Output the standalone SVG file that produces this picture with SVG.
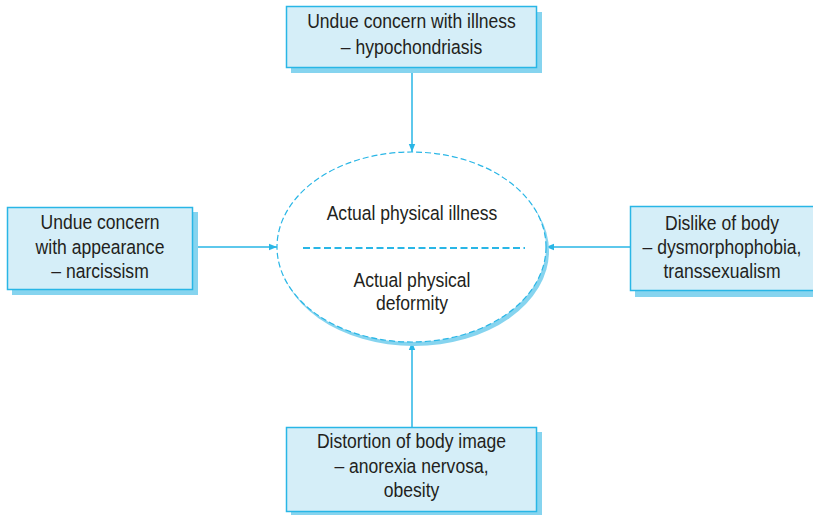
<svg xmlns="http://www.w3.org/2000/svg" width="813" height="515" viewBox="0 0 813 515">
<style>
.shadow{fill:#86d4ef;}
.box{fill:#d5eef8;stroke:#29b6e6;stroke-width:1.5;}
.t{font-family:"Liberation Sans",Arial,sans-serif;font-size:19.5px;fill:#231f20;text-anchor:middle;}
.conn{stroke:#29b6e6;stroke-width:1.5;fill:none;}
</style>
<defs>
<marker id="ah" viewBox="0 0 10 10" refX="10" refY="5" markerWidth="8" markerHeight="8" markerUnits="userSpaceOnUse" orient="auto">
<path d="M0,1 L10,5 L0,9 Z" fill="#29b6e6"/>
</marker>
</defs>
<rect width="813" height="515" fill="#ffffff"/>
<g id="connectors">
<line class="conn" x1="412" y1="68" x2="412" y2="152" marker-end="url(#ah)"/>
<line class="conn" x1="193" y1="247" x2="277" y2="247" marker-end="url(#ah)"/>
<line class="conn" x1="630" y1="247" x2="546" y2="247" marker-end="url(#ah)"/>
<line class="conn" x1="412" y1="427" x2="412" y2="342" marker-end="url(#ah)"/>
</g>
<g id="center">
<ellipse cx="414" cy="251" rx="135" ry="95" fill="#86d4ef"/>
<ellipse cx="411.5" cy="247" rx="134.5" ry="95" fill="#ffffff" stroke="#29b6e6" stroke-width="1.2" stroke-dasharray="6,3"/>
<line x1="303" y1="248" x2="525" y2="248" stroke="#29b6e6" stroke-width="2" stroke-dasharray="7,3.5"/>
<g transform="translate(412,0) scale(0.9,1)">
<text class="t" x="0" y="220">Actual physical illness</text>
<text class="t" x="0" y="287">Actual physical</text>
<text class="t" x="0" y="310">deformity</text>
</g>
</g>
<g id="top">
<rect class="shadow" x="291" y="12" width="251" height="61"/>
<rect class="box" x="286.5" y="6.5" width="250" height="61"/>
<g transform="translate(411.5,0) scale(0.9,1)">
<text class="t" x="0" y="28">Undue concern with illness</text>
<text class="t" x="0" y="54">– hypochondriasis</text>
</g>
</g>
<g id="left">
<rect class="shadow" x="12" y="212" width="186" height="83"/>
<rect class="box" x="7.5" y="207.5" width="185" height="82"/>
<g transform="translate(100,0) scale(0.9,1)">
<text class="t" x="0" y="229">Undue concern</text>
<text class="t" x="0" y="254">with appearance</text>
<text class="t" x="0" y="278">– narcissism</text>
</g>
</g>
<g id="right">
<rect class="shadow" x="635" y="211" width="185" height="86"/>
<rect class="box" x="630.5" y="206.5" width="186" height="84"/>
<g transform="translate(722,0) scale(0.9,1)">
<text class="t" x="0" y="230">Dislike of body</text>
<text class="t" x="0" y="254">– dysmorphophobia,</text>
<text class="t" x="0" y="278">transsexualism</text>
</g>
</g>
<g id="bottom">
<rect class="shadow" x="291" y="432" width="251" height="90"/>
<rect class="box" x="286.5" y="427.5" width="250" height="84"/>
<g transform="translate(411.5,0) scale(0.9,1)">
<text class="t" x="0" y="448">Distortion of body image</text>
<text class="t" x="0" y="473">– anorexia nervosa,</text>
<text class="t" x="0" y="497">obesity</text>
</g>
</g>
</svg>
